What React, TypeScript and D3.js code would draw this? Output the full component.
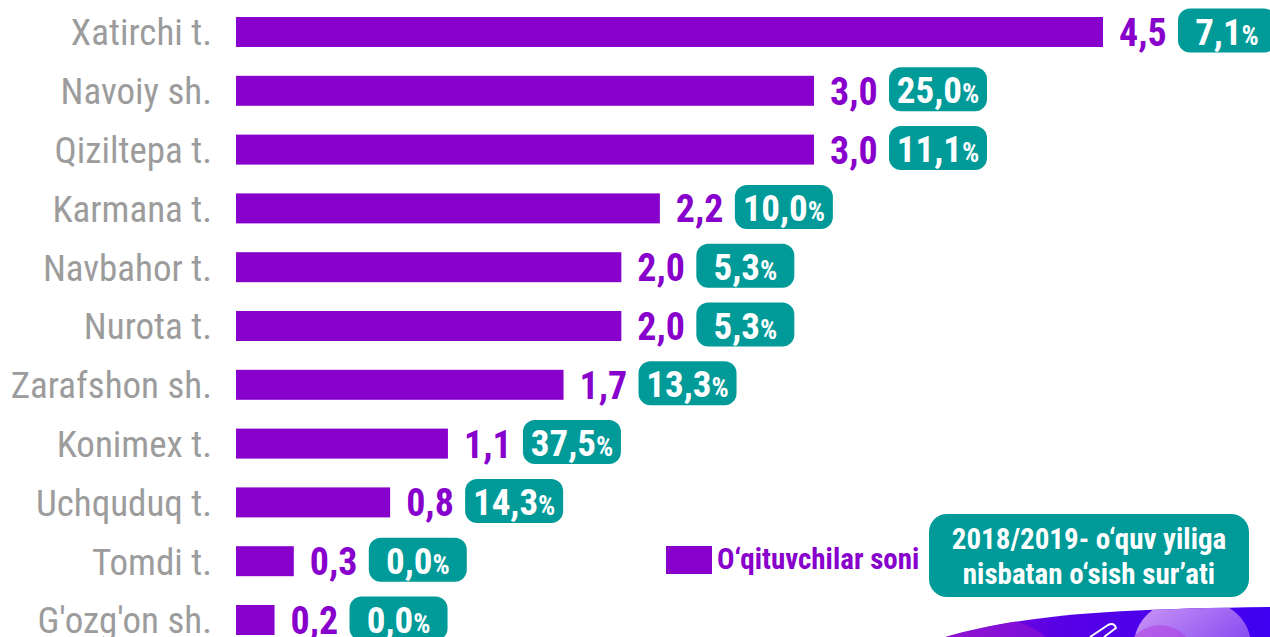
import React from "react";
import * as d3 from "d3";

const width = 1270;
const height = 637;

// teachers count by district (thousands) and growth vs 2018/2019
const categories = [
  "Xatirchi t.", "Navoiy sh.", "Qiziltepa t.", "Karmana t.", "Navbahor t.", "Nurota t.",
  "Zarafshon sh.", "Konimex t.", "Uchquduq t.", "Tomdi t.", "G'ozg'on sh.",
];
const values = [4.5, 3.0, 3.0, 2.2, 2.0, 2.0, 1.7, 1.1, 0.8, 0.3, 0.2];
const growth = [7.1, 25.0, 11.1, 10.0, 5.3, 5.3, 13.3, 37.5, 14.3, 0.0, 0.0];

const legendBars = "O\u2018qituvchilar soni";
const legendGrowth = ["2018/2019- o\u2018quv yiliga", "nisbatan o\u2018sish sur\u2019ati"];

const purple = "#8800cc";
const teal = "#009a99";
const grey = "#9c9c9c";
const font = "'Roboto Condensed', Roboto, 'Liberation Sans Narrow', sans-serif";

const fmt = (v: number) => v.toFixed(1).replace(".", ",");

export default function App() {
  const x = d3.scaleLinear().domain([0, 4.5]).range([236, 1103]);
  const y = d3.scaleBand<string>()
    .domain(categories)
    .range([2.6, 649.4])
    .paddingInner(0.49)
    .paddingOuter(0.245);
  const bw = y.bandwidth();

  const decoPath = "M945,637 C1020,616 1100,609 1270,607 L1270,637 Z";

  return (
    <svg width={width} height={height} style={{ position: "absolute", left: 0, top: 0 }} fontFamily={font}>
      <defs>
        <linearGradient id="deco" x1="0" x2="1" y1="0" y2="0">
          <stop offset="0%" stopColor="#8a10d0" />
          <stop offset="35%" stopColor="#5800e6" />
          <stop offset="100%" stopColor="#3e00f0" />
        </linearGradient>
        <linearGradient id="glow" x1="0" x2="1" y1="0" y2="1">
          <stop offset="0%" stopColor="#cf9af5" />
          <stop offset="100%" stopColor="#6a2cf0" />
        </linearGradient>
        <clipPath id="decoClip">
          <path d={decoPath} />
        </clipPath>
      </defs>
      <rect width={width} height={height} fill="#fff" />

      {categories.map((c, i) => {
        const yc = (y(c) as number) + bw / 2;
        const xe = x(values[i]);
        const bx = xe + 75;
        return (
          <g key={c}>
            <text x={212} y={yc} dy="0.36em" textAnchor="end" fill={grey} fontSize={37} fontStretch="condensed">
              {c}
            </text>
            <rect x={x(0)} y={y(c)} width={xe - x(0)} height={bw} fill={purple} />
            <text x={xe + 16} y={yc} dy="0.37em" fill={purple} fontSize={38} fontWeight={700} fontStretch="condensed">
              {fmt(values[i])}
            </text>
            <rect x={bx} y={yc - 23.5} width={98} height={44} rx={12} fill={teal} />
            <text x={bx + 49} y={yc} dy="0.34em" fontSize={37} textAnchor="middle" fill="#fff" fontWeight={700} fontStretch="condensed">
              <tspan>{fmt(growth[i])}</tspan>
              <tspan fontSize={27}>%</tspan>
            </text>
          </g>
        );
      })}

      {/* legend */}
      <rect x={666} y={546} width={46} height={28} fill={purple} />
      <text x={717} y={559} dy="0.36em" fill={purple} fontSize={29} fontWeight={700} fontStretch="condensed">
        {legendBars}
      </text>
      <rect x={929} y={514} width={320} height={83} rx={18} fill={teal} />
      {legendGrowth.map((t, i) => (
        <text key={t} x={1089} y={539 + i * 35} dy="0.36em" textAnchor="middle" fill="#fff" fontSize={29} fontWeight={700} fontStretch="condensed">
          {t}
        </text>
      ))}

      {/* corner decoration */}
      <path d={decoPath} fill="url(#deco)" />
      <g clipPath="url(#decoClip)">
        <rect x={1134} y={600} width={117} height={90} rx={50} fill="url(#glow)" />
        <circle cx={1160} cy={660} r={35} fill="#b040e0" opacity={0.55} />
        <circle cx={1000} cy={690} r={70} fill="#9a18d0" opacity={0.5} />
      </g>
      <path d="M1090,637 L1108,625 Q1114,622 1116,628 L1104,637" fill="none" stroke="#fff" strokeWidth={2} />
    </svg>
  );
}
